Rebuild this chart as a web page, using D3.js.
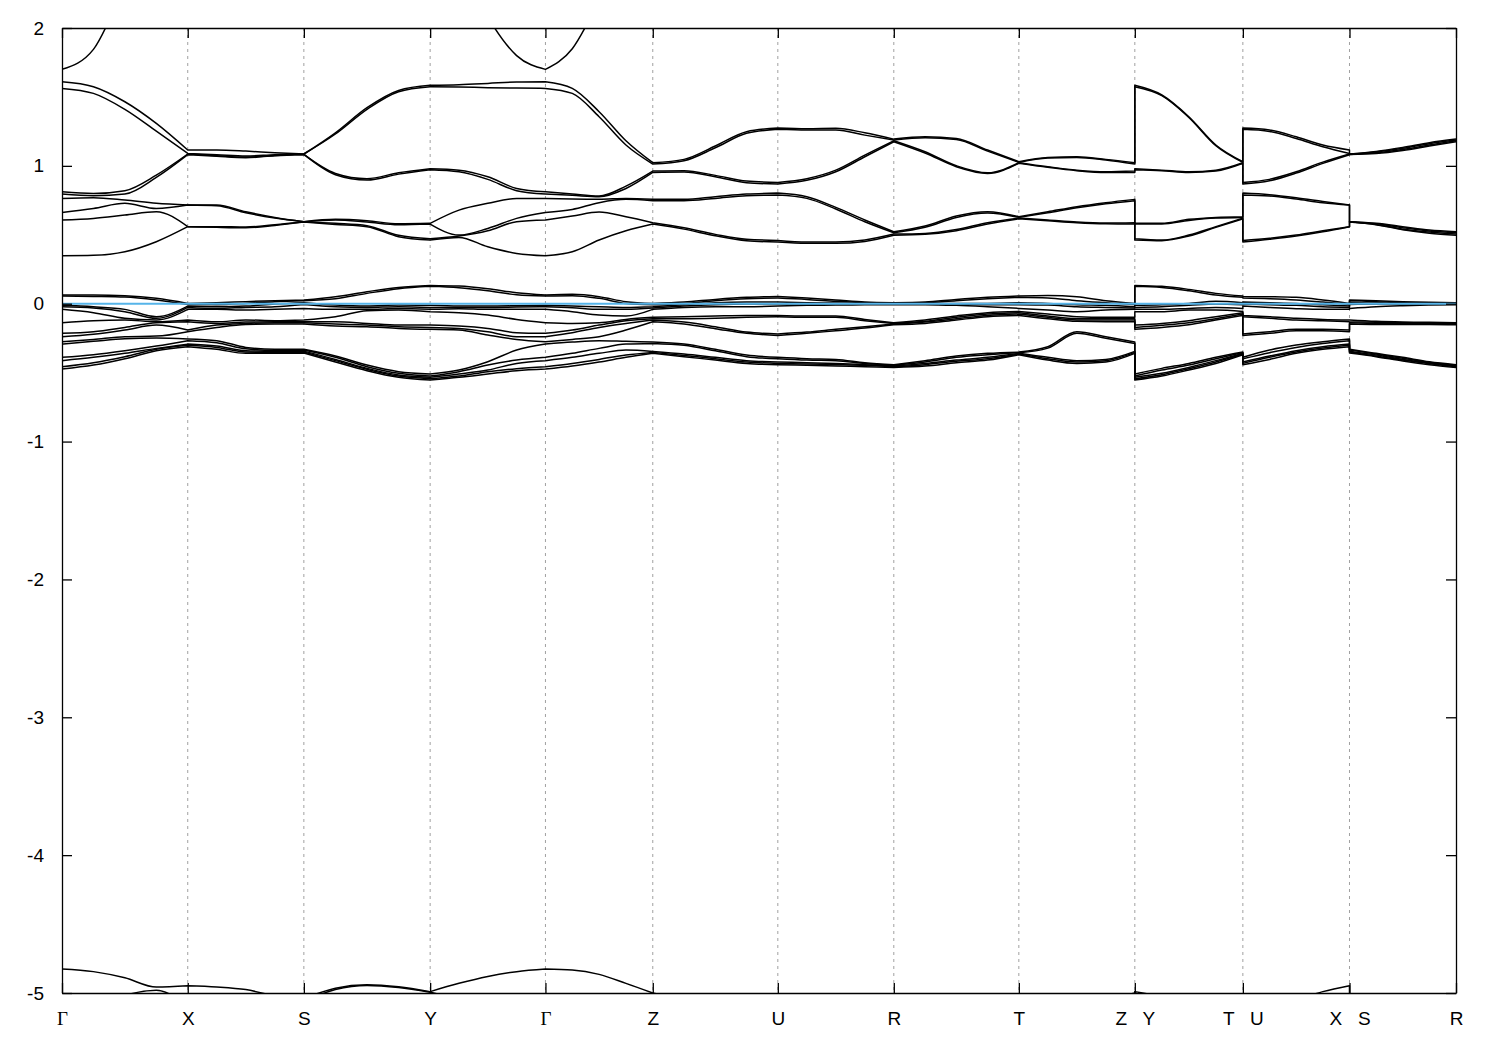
<!DOCTYPE html>
<html><head><meta charset="utf-8">
<script src="https://cdn.jsdelivr.net/npm/d3@7"></script>
<style>html,body{margin:0;padding:0;background:#fff;} svg{display:block;}</style>
</head><body>
<svg id="chart" width="1500" height="1050"></svg>
<script>
// ---------------- DATA ----------------
// High-symmetry path labels and their positions along the k-path (fraction of total length)
const kLabels = ["Γ","X","S","Y","Γ","Z","U","R","T","Z|Y","T|U","X|S","R"];
const kTicks  = [0, 0.0902, 0.1735, 0.2641, 0.3468, 0.4238, 0.5135, 0.5967, 0.6864, 0.7696, 0.8471, 0.9236, 1.0];
// fractional position of the sampled k-points inside each path segment
const sampleFrac = [0, 0.25, 0.5, 0.75, 1];
// y-axis ticks
const yTicks = [-5, -4, -3, -2, -1, 0, 1, 2];
const fermiLevel = [0];

// Band energies (eV), sorted ascending, 25 bands, at high-symmetry points
const levelsGamma = [-5.3,-4.826,-0.474,-0.457,-0.413,-0.389,-0.293,-0.276,-0.239,-0.215,-0.138,-0.041,-0.022,-0.012,0.056,0.063,0.348,0.607,0.662,0.764,0.795,0.812,1.562,1.610,1.70];
const levelsX = [-5.1,-4.947,-0.312,-0.302,-0.293,-0.268,-0.256,-0.203,-0.191,-0.131,-0.118,-0.041,-0.027,-0.017,-0.005,0.002,0.559,0.559,0.716,0.716,1.081,1.086,1.090,1.115,3.0];
const levelsS = [-5.06,-5.04,-0.358,-0.351,-0.344,-0.336,-0.331,-0.147,-0.138,-0.131,-0.118,-0.034,-0.005,0.007,0.022,0.027,0.592,0.595,0.595,0.595,1.083,1.083,1.086,1.086,3.0];
const levelsY = [-4.995,-4.99,-0.554,-0.544,-0.534,-0.525,-0.510,-0.186,-0.172,-0.155,-0.058,-0.041,-0.027,-0.012,0.126,0.133,0.462,0.471,0.578,0.583,0.972,0.979,1.574,1.584,2.8];
const levelsZ = [-5.2,-5.0,-0.360,-0.353,-0.346,-0.288,-0.278,-0.131,-0.118,-0.109,-0.099,-0.041,-0.031,-0.022,-0.007,0.002,0.578,0.588,0.747,0.757,0.952,0.962,1.013,1.023,3.0];
const levelsU = [-5.3,-5.1,-0.442,-0.433,-0.423,-0.399,-0.389,-0.230,-0.220,-0.094,-0.085,-0.017,-0.002,0.012,0.041,0.053,0.447,0.459,0.788,0.803,0.868,0.880,1.265,1.274,3.0];
const levelsR = [-5.3,-5.1,-0.462,-0.457,-0.452,-0.447,-0.442,-0.152,-0.147,-0.143,-0.138,-0.007,-0.002,0.000,0.002,0.007,0.496,0.505,0.515,0.522,1.175,1.182,1.187,1.194,3.0];
const levelsT = [-5.3,-5.1,-0.370,-0.365,-0.360,-0.355,-0.351,-0.085,-0.075,-0.065,-0.056,-0.034,-0.007,0.007,0.046,0.056,0.616,0.621,0.626,0.631,1.018,1.023,1.025,1.030,3.0];

// Band energies at intermediate k-points of each segment
const segGX = [levelsGamma,
  [-5.2,-4.845,-0.445,-0.428,-0.389,-0.370,-0.273,-0.259,-0.222,-0.203,-0.123,-0.065,-0.031,-0.022,0.053,0.063,0.351,0.619,0.691,0.769,0.783,0.800,1.526,1.574,1.845],
  [-5.02,-4.89,-0.399,-0.384,-0.360,-0.341,-0.254,-0.239,-0.191,-0.172,-0.118,-0.106,-0.058,-0.041,0.048,0.058,0.377,0.643,0.728,0.752,0.795,0.820,1.410,1.465,2.3],
  [-4.98,-4.957,-0.341,-0.331,-0.324,-0.307,-0.249,-0.235,-0.155,-0.138,-0.131,-0.118,-0.106,-0.094,0.027,0.039,0.450,0.667,0.691,0.728,0.916,0.933,1.252,1.308,2.7],
  levelsX];
const segXS = [levelsX,
  [-5.1,-4.956,-0.331,-0.317,-0.307,-0.283,-0.268,-0.172,-0.155,-0.143,-0.131,-0.041,-0.034,-0.022,-0.007,0.007,0.554,0.559,0.711,0.716,1.069,1.074,1.081,1.115,3.0],
  [-5.1,-4.975,-0.360,-0.351,-0.341,-0.327,-0.317,-0.150,-0.143,-0.133,-0.118,-0.046,-0.027,-0.017,0.002,0.015,0.551,0.556,0.660,0.667,1.059,1.064,1.071,1.107,3.0],
  [-5.08,-5.02,-0.360,-0.353,-0.346,-0.339,-0.331,-0.147,-0.138,-0.131,-0.123,-0.041,-0.022,-0.002,0.015,0.022,0.568,0.573,0.621,0.626,1.074,1.076,1.081,1.095,3.0],
  levelsS];
const segSY = [levelsS,
  [-4.975,-4.965,-0.423,-0.413,-0.404,-0.389,-0.380,-0.162,-0.147,-0.131,-0.094,-0.041,-0.022,-0.010,0.036,0.051,0.575,0.583,0.607,0.612,0.936,0.945,1.231,1.240,3.0],
  [-4.945,-4.94,-0.486,-0.476,-0.469,-0.457,-0.445,-0.167,-0.155,-0.143,-0.051,-0.041,-0.027,-0.017,0.075,0.087,0.559,0.566,0.592,0.602,0.897,0.907,1.410,1.422,3.0],
  [-4.96,-4.955,-0.534,-0.525,-0.517,-0.505,-0.493,-0.179,-0.167,-0.155,-0.046,-0.034,-0.022,-0.010,0.109,0.118,0.486,0.496,0.573,0.580,0.940,0.950,1.538,1.547,2.9],
  levelsY];
const segYG = [levelsY,
  [-5.05,-4.93,-0.534,-0.525,-0.510,-0.493,-0.481,-0.191,-0.179,-0.162,-0.065,-0.036,-0.027,-0.017,0.116,0.128,0.481,0.491,0.498,0.679,0.957,0.969,1.572,1.589,2.5],
  [-5.15,-4.88,-0.510,-0.493,-0.481,-0.445,-0.421,-0.227,-0.203,-0.179,-0.082,-0.041,-0.027,-0.017,0.094,0.109,0.413,0.529,0.546,0.728,0.902,0.921,1.567,1.598,2.08],
  [-5.25,-4.845,-0.486,-0.471,-0.433,-0.409,-0.336,-0.259,-0.239,-0.210,-0.114,-0.041,-0.024,-0.015,0.065,0.080,0.365,0.595,0.619,0.764,0.820,0.836,1.564,1.608,1.80],
  levelsGamma];
const segGZ = [levelsGamma,
  [-5.3,-4.833,-0.452,-0.433,-0.389,-0.360,-0.278,-0.259,-0.210,-0.191,-0.143,-0.058,-0.029,-0.017,0.058,0.068,0.377,0.636,0.684,0.759,0.786,0.795,1.526,1.562,1.85],
  [-5.3,-4.865,-0.423,-0.404,-0.360,-0.324,-0.268,-0.239,-0.172,-0.155,-0.138,-0.082,-0.041,-0.022,0.039,0.051,0.462,0.665,0.733,0.757,0.776,0.781,1.356,1.393,2.2],
  [-5.3,-4.93,-0.389,-0.372,-0.336,-0.293,-0.273,-0.191,-0.143,-0.123,-0.114,-0.089,-0.041,-0.027,0.002,0.015,0.529,0.631,0.757,0.764,0.836,0.853,1.151,1.182,2.6],
  levelsZ];
const segZU = [levelsZ,
  [-5.25,-5.05,-0.384,-0.375,-0.365,-0.302,-0.293,-0.147,-0.133,-0.109,-0.094,-0.027,-0.017,-0.007,0.002,0.012,0.541,0.551,0.747,0.757,0.955,0.965,1.037,1.047,3.0],
  [-5.3,-5.1,-0.409,-0.399,-0.389,-0.341,-0.331,-0.181,-0.167,-0.106,-0.089,-0.022,-0.007,0.007,0.022,0.031,0.493,0.503,0.764,0.776,0.921,0.931,1.131,1.144,3.0],
  [-5.3,-5.1,-0.433,-0.423,-0.413,-0.384,-0.372,-0.215,-0.206,-0.099,-0.085,-0.022,-0.002,0.012,0.036,0.046,0.457,0.467,0.783,0.795,0.878,0.890,1.236,1.248,3.0],
  levelsU];
const segUR = [levelsU,
  [-5.3,-5.1,-0.447,-0.438,-0.428,-0.409,-0.399,-0.215,-0.206,-0.099,-0.089,-0.012,-0.002,0.007,0.031,0.041,0.438,0.447,0.764,0.776,0.895,0.907,1.260,1.269,3.0],
  [-5.3,-5.1,-0.452,-0.442,-0.433,-0.413,-0.404,-0.196,-0.186,-0.099,-0.089,-0.010,-0.002,0.005,0.017,0.027,0.438,0.447,0.687,0.699,0.957,0.969,1.260,1.272,3.0],
  [-5.3,-5.1,-0.457,-0.447,-0.442,-0.433,-0.428,-0.177,-0.167,-0.123,-0.114,-0.007,-0.002,0.002,0.007,0.012,0.452,0.462,0.595,0.607,1.066,1.078,1.223,1.240,3.0],
  levelsR];
const segRT = [levelsR,
  [-5.3,-5.1,-0.452,-0.442,-0.433,-0.423,-0.413,-0.143,-0.133,-0.128,-0.118,-0.007,-0.002,0.002,0.007,0.012,0.503,0.510,0.554,0.563,1.093,1.102,1.204,1.211,3.0],
  [-5.3,-5.1,-0.428,-0.418,-0.409,-0.389,-0.380,-0.118,-0.109,-0.099,-0.089,-0.012,-0.002,0.002,0.022,0.031,0.529,0.539,0.626,0.636,0.994,1.001,1.192,1.199,3.0],
  [-5.3,-5.1,-0.409,-0.399,-0.389,-0.370,-0.360,-0.094,-0.085,-0.075,-0.065,-0.022,-0.007,0.002,0.036,0.046,0.578,0.588,0.658,0.667,0.945,0.950,1.107,1.115,3.0],
  levelsT];
const segTZ = [levelsT,
  [-5.3,-5.1,-0.409,-0.399,-0.389,-0.322,-0.312,-0.109,-0.099,-0.089,-0.075,-0.046,-0.010,0.002,0.041,0.060,0.602,0.607,0.660,0.667,0.989,0.994,1.057,1.061,3.0],
  [-5.3,-5.1,-0.433,-0.423,-0.413,-0.215,-0.203,-0.128,-0.118,-0.109,-0.094,-0.058,-0.022,-0.007,0.022,0.051,0.588,0.592,0.696,0.704,0.965,0.969,1.061,1.066,3.0],
  [-5.3,-5.05,-0.423,-0.413,-0.404,-0.251,-0.239,-0.131,-0.118,-0.109,-0.099,-0.046,-0.027,-0.012,0.007,0.022,0.580,0.585,0.725,0.733,0.952,0.957,1.042,1.047,3.0],
  levelsZ];
const segYT = [levelsY,
  [-5.1,-5.03,-0.525,-0.515,-0.505,-0.481,-0.469,-0.172,-0.157,-0.143,-0.058,-0.041,-0.022,-0.007,0.118,0.126,0.457,0.462,0.578,0.583,0.965,0.969,1.509,1.514,3.0],
  [-5.2,-5.1,-0.481,-0.471,-0.462,-0.445,-0.433,-0.152,-0.138,-0.123,-0.046,-0.034,-0.012,0.002,0.094,0.104,0.491,0.498,0.604,0.612,0.952,0.957,1.351,1.356,3.0],
  [-5.3,-5.1,-0.433,-0.423,-0.413,-0.399,-0.389,-0.118,-0.109,-0.094,-0.046,-0.027,-0.002,0.017,0.063,0.075,0.554,0.559,0.621,0.626,0.962,0.969,1.146,1.151,3.0],
  levelsT];
const segUX = [levelsU,
  [-5.3,-5.1,-0.404,-0.389,-0.380,-0.355,-0.336,-0.215,-0.203,-0.106,-0.094,-0.027,-0.007,0.007,0.036,0.051,0.467,0.474,0.781,0.791,0.892,0.902,1.250,1.260,3.0],
  [-5.2,-5.05,-0.360,-0.351,-0.341,-0.317,-0.300,-0.196,-0.186,-0.118,-0.106,-0.036,-0.012,0.002,0.027,0.046,0.491,0.498,0.759,0.769,0.948,0.957,1.199,1.211,3.0],
  [-5.15,-4.99,-0.331,-0.322,-0.312,-0.288,-0.276,-0.196,-0.186,-0.123,-0.114,-0.041,-0.022,-0.007,0.012,0.027,0.522,0.529,0.733,0.742,1.018,1.027,1.139,1.151,3.0],
  levelsX];
const segSR = [levelsS,
  [-5.2,-5.1,-0.384,-0.380,-0.372,-0.365,-0.360,-0.150,-0.143,-0.135,-0.128,-0.022,-0.002,0.005,0.015,0.022,0.573,0.575,0.580,0.583,1.090,1.095,1.100,1.105,3.0],
  [-5.3,-5.1,-0.416,-0.409,-0.404,-0.396,-0.389,-0.150,-0.145,-0.138,-0.133,-0.015,-0.002,0.002,0.007,0.015,0.537,0.541,0.551,0.559,1.112,1.119,1.127,1.134,3.0],
  [-5.3,-5.1,-0.442,-0.435,-0.430,-0.426,-0.421,-0.150,-0.145,-0.140,-0.135,-0.010,-0.002,0.002,0.005,0.010,0.512,0.520,0.527,0.534,1.144,1.151,1.161,1.168,3.0],
  levelsR];

const pathSegments = [segGX, segXS, segSY, segYG, segGZ, segZU, segUR, segRT, segTZ, segYT, segUX, segSR];

// ---------------- DRAWING ----------------
const svg = d3.select("#chart");
const pLeft = 62, pRight = 1456, pTop = 28, pBottom = 993;
const x = d3.scaleLinear().domain([0, 1]).range([pLeft, pRight]);
const y = d3.scaleLinear().domain([-5, 2]).range([pBottom, pTop]);
const FONT = "'Liberation Sans', Arial, Helvetica, sans-serif";

svg.append("rect").attr("width", 1500).attr("height", 1050).attr("fill", "#fff");

svg.append("defs").append("clipPath").attr("id", "plotclip")
  .append("rect").attr("x", pLeft).attr("y", pTop).attr("width", pRight - pLeft).attr("height", pBottom - pTop);

// vertical dashed grid lines at interior high-symmetry points
svg.append("g").selectAll("line")
  .data(kTicks.slice(1, -1))
  .join("line")
  .attr("x1", d => x(d)).attr("x2", d => x(d))
  .attr("y1", pTop).attr("y2", pBottom)
  .attr("stroke", "#a0a0a0").attr("stroke-width", 1)
  .attr("stroke-dasharray", "3,4");

// bands
const nBands = levelsGamma.length;
const line = d3.line().x(d => x(d[0])).y(d => y(d[1])).curve(d3.curveMonotoneX);
const bandPaths = [];
for (let b = 0; b < nBands; b++) {
  let dStr = "";
  pathSegments.forEach((seg, i) => {
    const k0 = kTicks[i], k1 = kTicks[i + 1];
    const pts = seg.map((row, j) => [k0 + sampleFrac[j] * (k1 - k0), row[b]]);
    let p = line(pts);
    if (i > 0) p = "L" + p.slice(1);
    dStr += p;
  });
  bandPaths.push(dStr);
}
svg.append("g").attr("clip-path", "url(#plotclip)")
  .selectAll("path").data(bandPaths).join("path")
  .attr("d", d => d)
  .attr("fill", "none").attr("stroke", "#000").attr("stroke-width", 1.5)
  .attr("stroke-linejoin", "round");

// Fermi level
svg.append("g").selectAll("line").data(fermiLevel).join("line")
  .attr("x1", pLeft).attr("x2", pRight)
  .attr("y1", d => y(d)).attr("y2", d => y(d))
  .attr("stroke", "#56b4e9").attr("stroke-width", 2);

// axes
function styleAxis(g) {
  g.attr("font-family", FONT).attr("font-size", 19);
  g.selectAll(".domain").attr("stroke", "#000").attr("stroke-width", 1.3);
  g.selectAll(".tick line").attr("stroke", "#000").attr("stroke-width", 1.3);
  g.selectAll(".tick text").attr("fill", "#000");
}
svg.append("g").attr("transform", `translate(${pLeft},0)`)
  .call(d3.axisLeft(y).tickValues(yTicks).tickFormat(d => String(d)).tickSizeInner(-10).tickSizeOuter(0).tickPadding(18))
  .call(styleAxis);
svg.append("g").attr("transform", `translate(${pRight},0)`)
  .call(d3.axisRight(y).tickValues(yTicks).tickFormat("").tickSizeInner(-10).tickSizeOuter(0))
  .call(styleAxis);
svg.append("g").attr("transform", `translate(0,${pTop})`)
  .call(d3.axisTop(x).tickValues(kTicks).tickFormat("").tickSizeInner(-10).tickSizeOuter(0))
  .call(styleAxis);
const xAxisG = svg.append("g").attr("transform", `translate(0,${pBottom})`)
  .call(d3.axisBottom(x).tickValues(kTicks)
    .tickFormat((d, i) => kLabels[i].replace("|", "   "))
    .tickSizeInner(-10).tickSizeOuter(0).tickPadding(19))
  .call(styleAxis);
xAxisG.selectAll(".tick text")
  .style("white-space", "pre")
  .attr("font-family", (d, i) => kLabels[i] === "Γ" ? "'Liberation Serif', 'Times New Roman', serif" : FONT);
</script>
</body></html>
